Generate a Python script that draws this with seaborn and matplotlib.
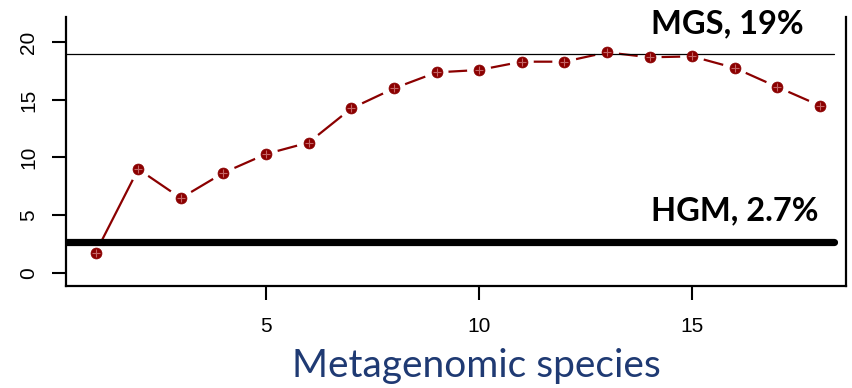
import matplotlib
matplotlib.use("Agg")
import matplotlib.pyplot as plt
import seaborn as sns
import pandas as pd

# Percent of reads assigned, by number of metagenomic species
species = list(range(1, 19))
percent = [1.74, 8.99, 6.47, 8.67, 10.3, 11.3, 14.26, 16.0, 17.39,
           17.6, 18.32, 18.32, 19.13, 18.7, 18.78, 17.77, 16.12, 14.5]
mgs_level = 19.0
hgm_level = 2.7
mgs_label = "MGS, 19%"
hgm_label = "HGM, 2.7%"
x_ticks = [5, 10, 15]
y_ticks = [0, 5, 10, 15, 20]
x_title = "Metagenomic species"

df = pd.DataFrame({"species": species, "percent": percent})

sns.set_style("ticks")
plt.rcParams["font.family"] = ["Liberation Sans", "DejaVu Sans"]

fig = plt.figure(figsize=(8.52, 3.88), dpi=100)
W, H = 852, 388
ax = fig.add_axes([66 / W, 1 - 286 / H, (846 - 66) / W, (286 - 17) / H])

red = "#8b0000"

# connecting line, broken around each point by white discs
sns.lineplot(data=df, x="species", y="percent", color=red, lw=1.6, ax=ax)
for ln in ax.lines:
    ln.set_zorder(1)
gaps = ax.scatter(df["species"], df["percent"], s=300, color="white",
                  edgecolors="none")
gaps.set_zorder(2)

# reference levels
ax.axhline(mgs_level, xmin=0, xmax=0.985, color="black", lw=0.9, zorder=3)
ax.axhline(hgm_level, xmin=0, xmax=0.985, color="black", lw=5.2, zorder=3)

# circled-plus points
sns.scatterplot(data=df, x="species", y="percent", marker="o", s=62,
                color=red, edgecolor=red, linewidth=0.5, ax=ax, zorder=4)
ax.scatter(df["species"], df["percent"], marker="+", s=38, color="#c46464",
           linewidths=0.8, zorder=5)

ax.set_xlim(0.305, 18.61)
ax.set_ylim(-1.16, 22.2)
ax.set_xticks(x_ticks)
ax.set_yticks(y_ticks)
ax.set_xticklabels([str(t) for t in x_ticks])
ax.set_yticklabels([str(t) for t in y_ticks], rotation=90, va="center")

ax.tick_params(axis="both", direction="out", length=10, width=1.5,
               labelsize=15, colors="black")
ax.tick_params(axis="x", pad=12)
ax.tick_params(axis="y", pad=10)

for side in ["left", "bottom", "right"]:
    ax.spines[side].set_linewidth(1.6)
    ax.spines[side].set_color("black")
ax.spines["top"].set_visible(False)

ax.set_xlabel("")
ax.set_ylabel("")

fig.text(476 / W, 1 - 366 / H, x_title, ha="center", va="center",
         fontsize=28, color="#1f3a73", family=["Lato", "DejaVu Sans"])

ax.text(0.75, 0.94, mgs_label, transform=ax.transAxes, ha="left",
        va="baseline", fontsize=23.5, fontweight="bold",
        family=["Lato", "DejaVu Sans"], color="black")
ax.text(0.75, 0.245, hgm_label, transform=ax.transAxes, ha="left",
        va="baseline", fontsize=23.5, fontweight="bold",
        family=["Lato", "DejaVu Sans"], color="black")

fig.savefig("out.png", dpi=100)
